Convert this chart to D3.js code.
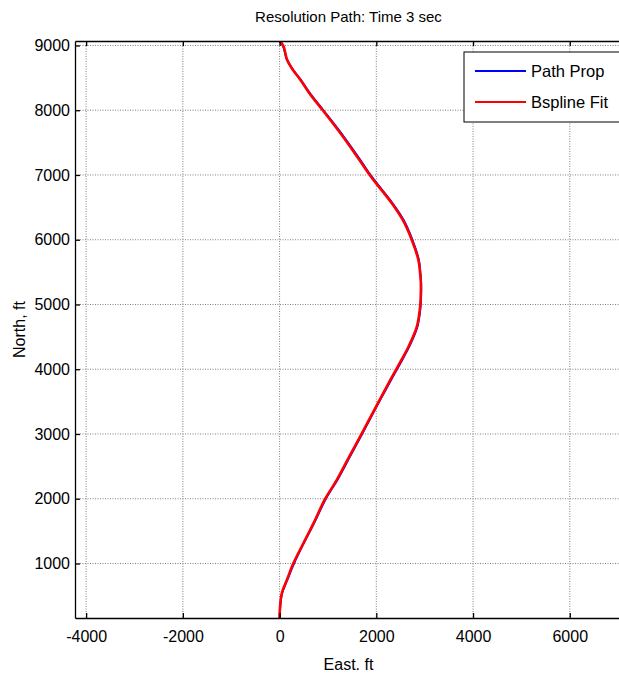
<!DOCTYPE html>
<html>
<head>
<meta charset="utf-8">
<script src="https://cdn.jsdelivr.net/npm/d3@7"></script>
<style>
  body { margin: 0; background: #fff; }
  svg { display: block; font-family: "Liberation Sans", Arial, sans-serif; }
  .grid line { stroke: #808080; stroke-width: 1; stroke-dasharray: 1,1.5; }
  .axis path, .axis line { stroke: #000; stroke-width: 1.3; }
  .axis text { fill: #000; font-size: 16px; }
</style>
</head>
<body>
<script>
// Resolution path samples (ft)
const bsplineEast  = [0, 10, 46, 150, 285, 492, 700, 941, 1183, 1440, 1695, 2030, 2290, 2480, 2665, 2838, 2906, 2920, 2920, 2906, 2870, 2734, 2547, 2320, 1890, 1640, 1300, 905, 630, 425, 265, 150, 80, 0];
const bsplineNorth = [158, 333, 540, 745, 1003, 1312, 1620, 1996, 2290, 2650, 3000, 3473, 3834, 4092, 4348, 4657, 4966, 5173, 5350, 5482, 5687, 5996, 6305, 6563, 6974, 7243, 7602, 7988, 8246, 8476, 8632, 8787, 8992, 9069];
const pathEast  = [0, 14, 52, 160, 300, 500, 712, 955, 1195, 1455, 1707, 2042, 2305, 2498, 2680, 2850, 2915, 2928, 2926, 2912, 2880, 2748, 2565, 2337, 1905, 1660, 1318, 918, 645, 432, 272, 150, 72, 0];
const pathNorth = bsplineNorth;

const xTicks = [-4000, -2000, 0, 2000, 4000, 6000];
const yTicks = [1000, 2000, 3000, 4000, 5000, 6000, 7000, 8000, 9000];
const legendLabels = ["Path Prop", "Bspline Fit"];
const seriesColors = ["#0000ff", "#ff0000"];

const W = 619, H = 675;
const m = {top: 41, right: -3, bottom: 57, left: 75};
const w = W - m.left - m.right, h = H - m.top - m.bottom;

const svg = d3.select("body").append("svg").attr("width", W).attr("height", H);
const g = svg.append("g").attr("transform", `translate(${m.left},${m.top})`);

const x = d3.scaleLinear().domain([-4230, 7080]).range([0, w]);
const y = d3.scaleLinear().domain([158, 9069]).range([h, 0]);
const plain = d => (d < 0 ? "-" : "") + Math.abs(d);

// dotted grid
const grid = g.append("g").attr("class", "grid");
grid.selectAll(".gx").data(xTicks).join("line")
  .attr("x1", d => x(d)).attr("x2", d => x(d)).attr("y1", 0).attr("y2", h);
grid.selectAll(".gy").data(yTicks).join("line")
  .attr("y1", d => y(d)).attr("y2", d => y(d)).attr("x1", 0).attr("x2", w);

// curves
g.append("clipPath").attr("id", "clip").append("rect").attr("width", w).attr("height", h);
const line = d3.line().x(d => x(d[0])).y(d => y(d[1])).curve(d3.curveCatmullRom);
const series = [
  d3.zip(pathEast, pathNorth),
  d3.zip(bsplineEast, bsplineNorth)
];
g.selectAll(".series").data(series).join("path")
  .attr("clip-path", "url(#clip)")
  .attr("fill", "none")
  .attr("stroke", (d, i) => seriesColors[i])
  .attr("stroke-width", (d, i) => i ? 2.6 : 2)
  .attr("stroke-linejoin", "round")
  .attr("d", line);

// axes, ticks pointing inward like MATLAB
g.append("g").attr("class", "axis")
  .attr("transform", `translate(0,${h})`)
  .call(d3.axisBottom(x).tickValues(xTicks).tickFormat(plain).tickSizeInner(-5).tickSizeOuter(0).tickPadding(13));
g.append("g").attr("class", "axis")
  .call(d3.axisTop(x).tickValues(xTicks).tickSizeInner(-5).tickSizeOuter(0).tickFormat(""));
g.append("g").attr("class", "axis")
  .call(d3.axisLeft(y).tickValues(yTicks).tickFormat(plain).tickSizeInner(-5).tickSizeOuter(0).tickPadding(5));
g.selectAll(".axis .domain").attr("stroke-width", 1.6);

// titles
svg.append("text").attr("x", m.left + w / 2).attr("y", 22).attr("text-anchor", "middle")
  .attr("font-size", 15).text("Resolution Path: Time 3 sec");
svg.append("text").attr("x", m.left + w / 2).attr("y", 670).attr("text-anchor", "middle")
  .attr("font-size", 16).text("East. ft");
svg.append("text").attr("transform", `translate(25,${m.top + h / 2}) rotate(-90)`)
  .attr("text-anchor", "middle").attr("font-size", 16).text("North, ft");

// legend
const lg = svg.append("g").attr("transform", "translate(464,52)");
lg.append("rect").attr("width", 170).attr("height", 70).attr("fill", "#fff").attr("stroke", "#000").attr("stroke-width", 1);
legendLabels.forEach((t, i) => {
  const yy = 19 + i * 31;
  lg.append("line").attr("x1", 11).attr("x2", 62).attr("y1", yy).attr("y2", yy)
    .attr("stroke", seriesColors[i]).attr("stroke-width", 2);
  lg.append("text").attr("x", 67).attr("y", yy + 6).attr("font-size", 16.5).text(t);
});
</script>
</body>
</html>
